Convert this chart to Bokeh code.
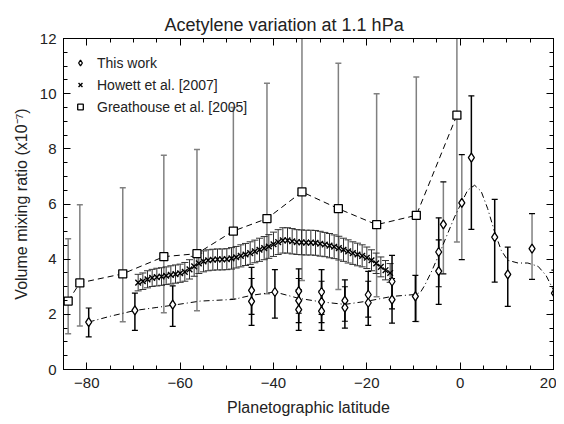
from bokeh.plotting import figure
from bokeh.models import (ColumnDataSource, Whisker, TeeHead, Range1d, LinearAxis,
                          FixedTicker, Legend, LegendItem)
from bokeh.embed import file_html
from bokeh.resources import INLINE

FONT = "Liberation Sans"

# Greathouse et al. [2005]
gh_lat = [-84, -81.5, -72.3, -63.5, -56.4, -48.6, -41.4, -33.9, -26.1, -17.9, -9.4, -0.7]
gh_val = [2.48, 3.14, 3.47, 4.09, 4.2, 5.02, 5.47, 6.44, 5.83, 5.25, 5.59, 9.22]
gh_lo = [1.3, 1.58, 1.73, 2.06, 2.13, 2.56, 2.75, 3.23, 2.9, 2.64, 1.74, 4.62]
gh_hi = [4.74, 5.97, 6.59, 7.77, 7.98, 9.5, 10.38, 12.9, 11.1, 10.0, 10.6, 18.4]

# Howett et al. [2007]
hw_lat = [-69, -68, -67, -66, -65, -64, -63, -62, -61, -60,
          -59, -58, -57, -56, -55, -54, -53, -52, -51, -50,
          -49, -48, -47, -46, -45, -44, -43, -42, -41, -40,
          -39, -38, -37, -36, -35, -34, -33, -32, -31, -30,
          -29, -28, -27, -26, -25, -24, -23, -22, -21, -20,
          -19, -18, -17, -16, -15]
hw_val = [3.15, 3.2, 3.27, 3.32, 3.35, 3.37, 3.40, 3.43, 3.46, 3.49,
          3.54, 3.63, 3.74, 3.85, 3.92, 3.96, 3.98, 3.99, 3.99, 4.00,
          4.03, 4.07, 4.12, 4.17, 4.22, 4.28, 4.34, 4.40, 4.46, 4.54,
          4.62, 4.68, 4.68, 4.65, 4.62, 4.61, 4.60, 4.60, 4.59, 4.56,
          4.53, 4.49, 4.45, 4.40, 4.34, 4.28, 4.22, 4.17, 4.12, 4.05,
          3.96, 3.85, 3.72, 3.60, 3.50]
hw_err = [0.3, 0.3, 0.31, 0.31, 0.32, 0.32, 0.32, 0.33, 0.33, 0.33,
          0.34, 0.35, 0.36, 0.37, 0.38, 0.38, 0.38, 0.38, 0.38, 0.38,
          0.39, 0.39, 0.4, 0.4, 0.41, 0.41, 0.42, 0.42, 0.43, 0.44,
          0.45, 0.46, 0.46, 0.46, 0.45, 0.45, 0.45, 0.45, 0.45, 0.45,
          0.44, 0.44, 0.43, 0.43, 0.42, 0.42, 0.41, 0.41, 0.4, 0.39,
          0.38, 0.37, 0.36, 0.35, 0.34]

# This work
tw_lat = [-79.6, -69.7, -61.6, -44.7, -44.7, -39.7, -34.6, -34.6, -34.6, -29.7, -29.7, -29.7,
          -24.7, -24.7, -19.7, -19.7, -14.6, -14.6, -9.6, -4.6, -4.6, -3.6, 0.35, 2.4,
          7.4, 10.2, 15.4, 20.2]
tw_val = [1.72, 2.14, 2.35, 2.87, 2.47, 2.81, 2.84, 2.5, 2.17, 2.81, 2.45, 2.12,
          2.5, 2.24, 2.71, 2.42, 3.19, 2.53, 2.65, 4.26, 3.57, 5.26, 6.04, 7.68,
          4.8, 3.45, 4.38, 2.77]
tw_lo = [1.18, 1.42, 1.56, 2.0, 1.6, 1.86, 2.04, 1.7, 1.42, 2.0, 1.7, 1.42,
         1.75, 1.5, 1.9, 1.6, 2.2, 1.68, 1.74, 3.0, 2.36, 3.47, 3.98, 5.08,
         3.17, 2.29, 3.27, 2.0]
tw_hi = [2.23, 2.77, 3.03, 3.7, 3.3, 3.62, 3.65, 3.3, 2.9, 3.62, 3.2, 2.85,
         3.25, 3.0, 3.56, 3.2, 4.14, 3.3, 3.41, 5.5, 4.7, 6.8, 7.79, 9.92,
         6.17, 4.44, 5.65, 3.6]
tw_bar = ["black", "black", "black", "black", "black", "black", "black", "black", "black",
          "black", "black", "black", "black", "black", "black", "black", "black", "black",
          "black", "black", "black", "gray", "gray", "black", "black", "black", "gray", "black"]

# smooth fit through this work (dash-dot)
fit_lat = [-79.6, -75, -69.7, -65, -61.6, -55.7, -48.6, -44.7, -39.7, -34.6, -29.7, -24.7,
           -19.8, -14.6, -9.6, -8.5, -7.6, -6.2, -4.6, -3.0, -1.2, 0.35, 1.6, 3.1, 4.5,
           5.9, 7.4, 8.8, 10.2, 12.4, 14.5, 16.7, 18.4, 20.2]
fit_val = [1.72, 1.93, 2.14, 2.25, 2.33, 2.48, 2.54, 2.69, 2.81, 2.58, 2.45, 2.36,
           2.48, 2.65, 2.72, 2.8, 3.05, 3.53, 4.14, 4.8, 5.53, 6.07, 6.5, 6.68, 6.46,
           5.83, 4.98, 4.32, 3.96, 3.86, 3.86, 3.74, 3.41, 2.81]

x_ticks = [-80, -60, -40, -20, 0, 20]
y_ticks = [0, 2, 4, 6, 8, 10, 12]

p = figure(frame_width=490, frame_height=331, output_backend="svg", toolbar_location=None,
           x_range=Range1d(-85, 20), y_range=Range1d(0, 12),
           min_border_left=63, min_border_right=3, min_border_top=38, min_border_bottom=46)
p.background_fill_color = "white"
p.grid.visible = False
p.outline_line_color = "black"
p.outline_line_width = 1

p.title.text = "Acetylene variation at 1.1 hPa"
p.title.align = "left"
p.title.offset = 101
p.title.standoff = 8
p.title.text_font = FONT
p.title.text_font_size = "18px"
p.title.text_font_style = "normal"
p.title.text_color = "#222222"

def style_axis(ax, show_labels=True):
    ax.major_tick_in = 7
    ax.major_tick_out = 0
    ax.minor_tick_in = 4
    ax.minor_tick_out = 0
    ax.axis_line_color = "black"
    ax.major_tick_line_color = "black"
    ax.minor_tick_line_color = "black"
    ax.major_label_text_font = FONT
    ax.major_label_text_font_size = "15px"
    ax.major_label_text_color = "#222222" if show_labels else None
    ax.axis_label_text_font = FONT
    ax.axis_label_text_font_size = "16px"
    ax.axis_label_text_font_style = "normal"
    ax.axis_label_text_color = "#222222"

xt = FixedTicker(ticks=x_ticks, minor_ticks=list(range(-85, 21, 5)))
yt = FixedTicker(ticks=y_ticks, minor_ticks=[i * 0.5 for i in range(0, 25)])

p.xaxis.ticker = xt
p.yaxis.ticker = yt
style_axis(p.xaxis[0])
style_axis(p.yaxis[0])
p.xaxis.axis_label = "Planetographic latitude"
p.yaxis.axis_label = "Volume mixing ratio (x10\u207b\u2077)"
p.xaxis.major_label_standoff = 8
p.yaxis.major_label_standoff = 7
p.xaxis.axis_label_standoff = 8
p.yaxis.axis_label_standoff = 7

top = LinearAxis(ticker=xt)
style_axis(top, False)
top.major_label_text_font_size = "0px"
top.major_label_standoff = 0
p.add_layout(top, "above")
right = LinearAxis(ticker=yt)
style_axis(right, False)
right.major_label_text_font_size = "0px"
right.major_label_standoff = 0
p.add_layout(right, "right")

gh_src = ColumnDataSource(dict(x=gh_lat, y=gh_val, lo=gh_lo, hi=gh_hi))
hw_src = ColumnDataSource(dict(x=hw_lat, y=hw_val,
                               lo=[v - e for v, e in zip(hw_val, hw_err)],
                               hi=[v + e for v, e in zip(hw_val, hw_err)]))
tw_src = ColumnDataSource(dict(x=tw_lat, y=tw_val, lo=tw_lo, hi=tw_hi, c=tw_bar))

# error bars
gh_w = Whisker(source=gh_src, base="x", lower="lo", upper="hi",
               line_color="#808080", line_width=1.5,
               upper_head=TeeHead(size=6, line_color="#808080", line_width=1.5),
               lower_head=TeeHead(size=6, line_color="#808080", line_width=1.5))
p.add_layout(gh_w)
hw_w = Whisker(source=hw_src, base="x", lower="lo", upper="hi",
               line_color="#333333", line_width=1,
               upper_head=TeeHead(size=7, line_color="#333333", line_width=1),
               lower_head=TeeHead(size=7, line_color="#333333", line_width=1))
p.add_layout(hw_w)
tw_w = Whisker(source=tw_src, base="x", lower="lo", upper="hi",
               line_color="c", line_width=1.5,
               upper_head=TeeHead(size=6, line_color="black", line_width=1.2),
               lower_head=TeeHead(size=6, line_color="black", line_width=1.2))
p.add_layout(tw_w)

# lines
p.line(gh_lat, gh_val, line_color="black", line_dash="6 4", line_width=1)
p.line(fit_lat, fit_val, line_color="black", line_dash="6 3 1 3", line_width=1)

# markers
r_gh = p.scatter("x", "y", source=gh_src, marker="square", size=8,
                 fill_color="white", line_color="black", line_width=1.3)
r_hw = p.scatter("x", "y", source=hw_src, marker="x", size=8,
                 line_color="black", line_width=1.4)
r_tw = p.scatter("x", "y", source=tw_src, marker="diamond", size=9,
                 fill_color="white", line_color="black", line_width=1.3)

legend = Legend(items=[LegendItem(label="This work", renderers=[r_tw]),
                       LegendItem(label="Howett et al. [2007]", renderers=[r_hw]),
                       LegendItem(label="Greathouse et al. [2005]", renderers=[r_gh])],
                location="top_left")
legend.title = " "
legend.title_text_font_size = "1px"
legend.title_standoff = 3
legend.background_fill_alpha = 0
legend.border_line_color = None
legend.label_text_font = FONT
legend.label_text_font_size = "14px"
legend.label_text_color = "#222222"
legend.glyph_width = 14
legend.glyph_height = 21
legend.label_height = 21
legend.label_standoff = 10
legend.spacing = 1
legend.margin = 10
legend.padding = 6
p.add_layout(legend)

open("out.html", "w").write(file_html(p, INLINE))
